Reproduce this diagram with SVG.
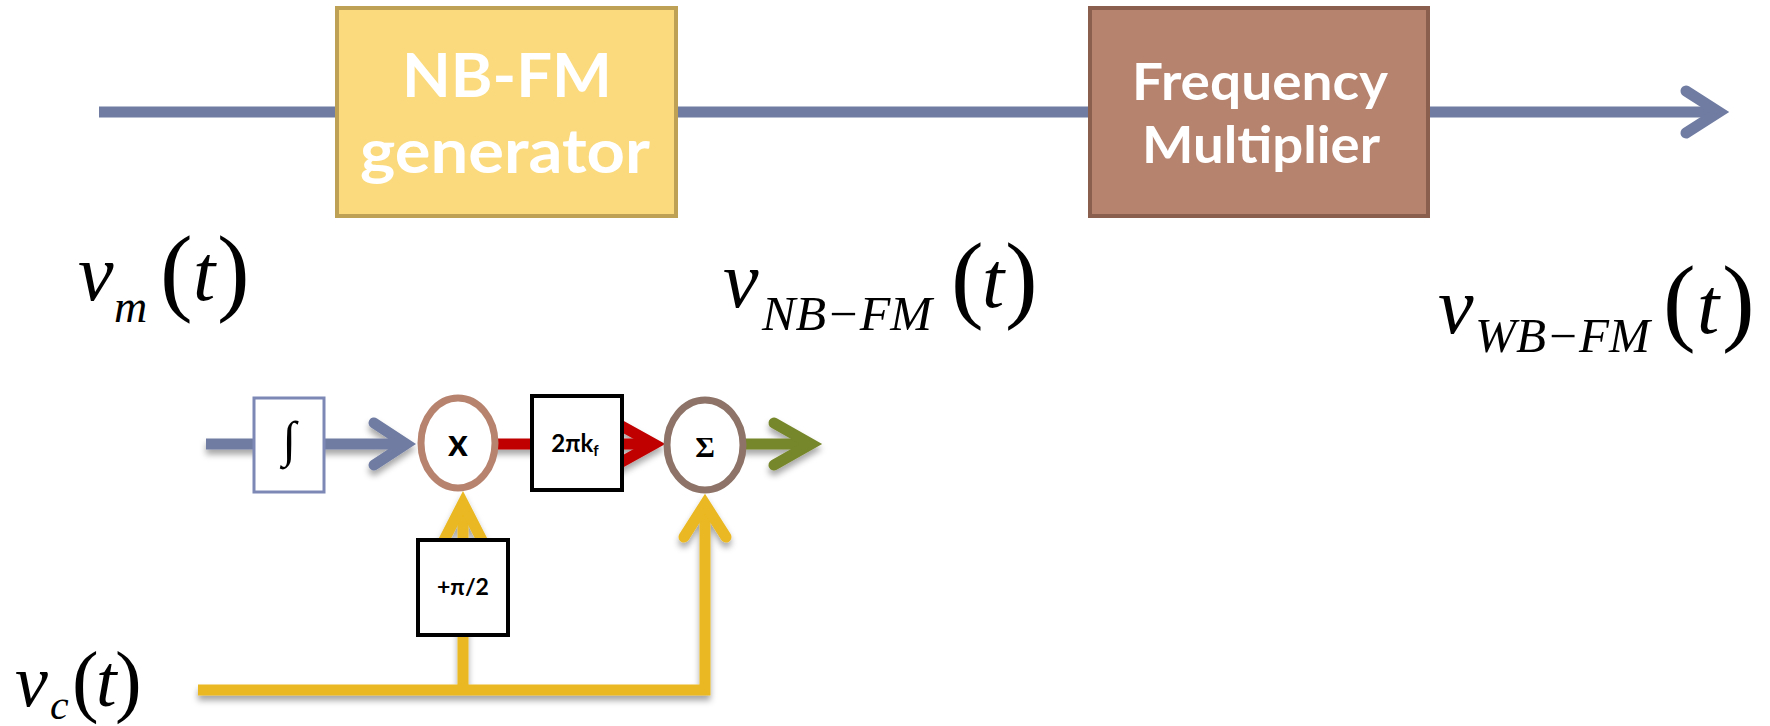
<svg xmlns="http://www.w3.org/2000/svg" width="1770" height="726" viewBox="0 0 1770 726">
<defs>
<filter id="sh" x="-20%" y="-20%" width="140%" height="160%">
<feDropShadow dx="0" dy="5" stdDeviation="3" flood-color="#000" flood-opacity="0.35"/>
</filter>
<style>
.lbl{font-family:Lato,"Open Sans","Liberation Sans",sans-serif;font-weight:700;fill:#fff;text-anchor:middle}
.sm{font-family:Lato,"Open Sans","Liberation Sans",sans-serif;font-weight:700;fill:#000;text-anchor:middle}
.mi{font-family:"Liberation Serif","Times New Roman",serif;font-style:italic;fill:#000}
.mp{font-family:"Liberation Serif","Times New Roman",serif;fill:#000}
.ln{fill:none;stroke-linecap:round;stroke-linejoin:miter;stroke-miterlimit:6}
.blue{stroke:#707CA2;stroke-width:11}
.red{stroke:#C00000;stroke-width:11}
.green{stroke:#76862A;stroke-width:11}
.yel{stroke:#EAB820;stroke-width:11}
</style>
</defs>
<rect width="1770" height="726" fill="#fff"/>

<g id="connectors">
  <line class="ln blue" x1="99" y1="112" x2="1718" y2="112" style="stroke-linecap:butt"/>
  <polyline class="ln blue" points="1686,91 1719,112 1686,133"/>
  <g filter="url(#sh)">
    <line class="ln blue" x1="206" y1="444" x2="405" y2="444" style="stroke-linecap:butt"/>
    <polyline class="ln blue" points="374,423 406,444 374,465"/>
    <line class="ln red" x1="490" y1="444" x2="650" y2="444" style="stroke-linecap:butt"/>
    <polyline class="ln red" points="600,414 654,444 600,474"/>
    <line class="ln green" x1="740" y1="444" x2="810" y2="444" style="stroke-linecap:butt"/>
    <polyline class="ln green" points="774,423 811,444 774,465"/>
    <polyline class="ln yel" points="198,690 705,690 705,505" style="stroke-linecap:butt"/>
    <polyline class="ln yel" points="684,537 705,504 726,537"/>
    <line class="ln yel" x1="463" y1="690" x2="463" y2="505" style="stroke-linecap:butt"/>
    <polyline class="ln yel" points="440,548 463,503 486,548"/>
  </g>
</g>

<g id="nbfm">
  <rect x="337" y="8" width="339" height="208" fill="#FADA7D" stroke="#BFA155" stroke-width="4"/>
  <text class="lbl" x="507" y="97" font-size="62" textLength="210" lengthAdjust="spacingAndGlyphs">NB-FM</text>
  <text class="lbl" x="505" y="173" font-size="62" textLength="290" lengthAdjust="spacingAndGlyphs">generator</text>
</g>

<g id="freqmult">
  <rect x="1090" y="8" width="338" height="208" fill="#B6836F" stroke="#8A5F4E" stroke-width="4"/>
  <text class="lbl" x="1260" y="100" font-size="52" textLength="256" lengthAdjust="spacingAndGlyphs">Frequency</text>
  <text class="lbl" x="1261" y="163" font-size="52" textLength="238" lengthAdjust="spacingAndGlyphs">Multiplier</text>
</g>

<g id="label-vm">
  <text class="mi" x="78" y="300" font-size="80">v</text>
  <text class="mi" x="114" y="322" font-size="46">m</text>
  <text class="mp" x="160" y="303" font-size="98">(</text>
  <text class="mi" x="193" y="300" font-size="80">t</text>
  <text class="mp" x="217" y="303" font-size="98">)</text>
</g>

<g id="label-vnb">
  <text class="mi" x="723" y="307" font-size="80">v</text>
  <text class="mi" x="762" y="330" font-size="48" textLength="170" lengthAdjust="spacingAndGlyphs">NB−FM</text>
  <text class="mp" x="951" y="310" font-size="98">(</text>
  <text class="mi" x="982" y="307" font-size="80">t</text>
  <text class="mp" x="1005" y="310" font-size="98">)</text>
</g>

<g id="label-vwb">
  <text class="mi" x="1438" y="333" font-size="80">v</text>
  <text class="mi" x="1475" y="352" font-size="48" textLength="175" lengthAdjust="spacingAndGlyphs">WB−FM</text>
  <text class="mp" x="1663" y="333" font-size="98">(</text>
  <text class="mi" x="1697" y="333" font-size="80">t</text>
  <text class="mp" x="1722" y="333" font-size="98">)</text>
</g>

<g id="label-vc">
  <text class="mi" x="15" y="706" font-size="74">v</text>
  <text class="mi" x="50" y="719" font-size="42">c</text>
  <text class="mp" x="72" y="707" font-size="80">(</text>
  <text class="mi" x="96" y="706" font-size="74">t</text>
  <text class="mp" x="115" y="707" font-size="80">)</text>
</g>

<g id="integrator">
  <rect x="254" y="398" width="70" height="94" fill="#fff" stroke="#7D88B5" stroke-width="3"/>
  <text class="mp" x="289" y="456" font-size="50" text-anchor="middle">∫</text>
</g>

<g id="multiplier">
  <ellipse cx="458" cy="443" rx="37" ry="45" fill="#fff" stroke="#B7836F" stroke-width="7"/>
  <text class="sm" x="458" y="456" font-size="38">x</text>
</g>

<g id="gain">
  <rect x="532" y="396" width="90" height="94" fill="#fff" stroke="#000" stroke-width="4"/>
  <text class="sm" x="575" y="452" font-size="24">2πk<tspan font-size="15" dy="4">f</tspan></text>
</g>

<g id="summer">
  <ellipse cx="705" cy="445" rx="38" ry="45" fill="#fff" stroke="#8E7468" stroke-width="7"/>
  <text class="mp" x="705" y="457" font-size="30" font-weight="700" text-anchor="middle">Σ</text>
</g>

<g id="phase">
  <rect x="418" y="540" width="90" height="95" fill="#fff" stroke="#000" stroke-width="4"/>
  <text class="sm" x="463" y="595" font-size="23">+π/2</text>
</g>
</svg>
